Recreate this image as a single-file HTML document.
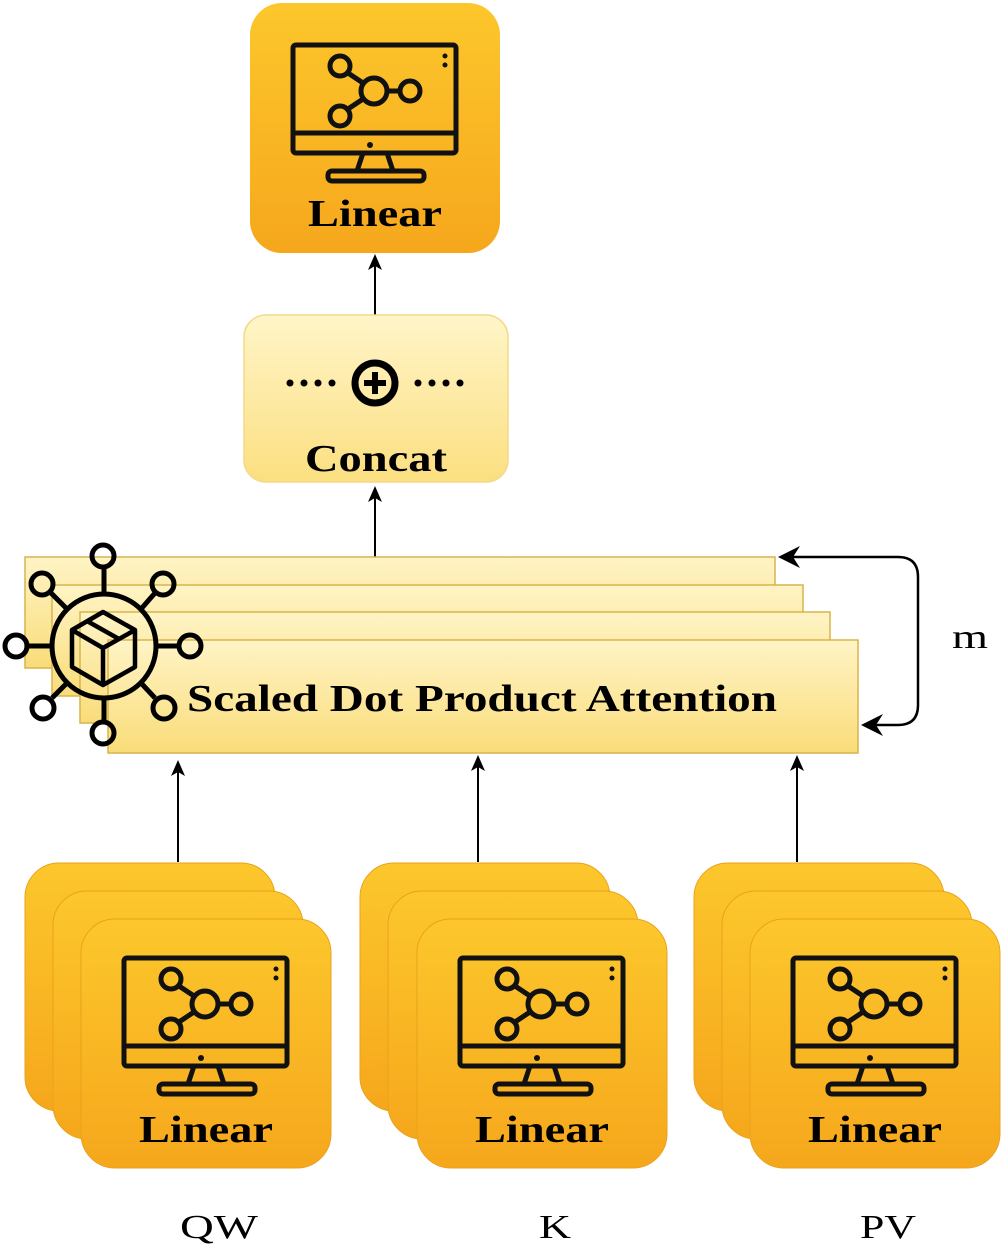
<!DOCTYPE html>
<html><head><meta charset="utf-8"><style>
html,body{margin:0;padding:0;background:#fff}
svg{display:block}
text{font-family:"Liberation Serif",serif}
</style></head><body>
<svg width="1005" height="1252" viewBox="0 0 1005 1252" xmlns="http://www.w3.org/2000/svg">
<defs>
<linearGradient id="og" x1="0" y1="0" x2="0" y2="1"><stop offset="0" stop-color="#fcc72c"/><stop offset="1" stop-color="#f6a71c"/></linearGradient>
<linearGradient id="pg" x1="0" y1="0" x2="0" y2="1"><stop offset="0" stop-color="#fff5c8"/><stop offset="1" stop-color="#fbdf80"/></linearGradient>
<linearGradient id="sg" x1="0" y1="0" x2="0" y2="1"><stop offset="0" stop-color="#fff4c6"/><stop offset="1" stop-color="#f9dc79"/></linearGradient>
<marker id="ah" markerWidth="16" markerHeight="16" refX="8" refY="8" orient="auto" markerUnits="userSpaceOnUse"><path d="M0,1 L16,8 L0,15 L4,8 z" fill="#000"/></marker>
<symbol id="mon" viewBox="0 0 250 250" width="250" height="250">
<g fill="none" stroke="#111" stroke-width="5">
<rect x="43" y="42" width="163" height="108" rx="3"/>
<line x1="43" y1="130" x2="206" y2="130"/>
<path d="M113,150 L107,168 M137,150 L143,168"/>
<rect x="78" y="168" width="96" height="10" rx="4"/>
<circle cx="124" cy="88" r="13"/>
<circle cx="90" cy="63" r="10"/>
<circle cx="90" cy="113" r="10"/>
<circle cx="160" cy="88" r="10"/>
<line x1="98" y1="70" x2="113" y2="80"/>
<line x1="98" y1="106" x2="113" y2="96"/>
<line x1="137" y1="88" x2="150" y2="88"/>
</g>
<g fill="#111"><circle cx="120" cy="142" r="3"/><circle cx="195" cy="53" r="2.5"/><circle cx="195" cy="62" r="2.5"/></g>
</symbol>
</defs>

<rect x="250" y="3" width="250" height="250" rx="32" fill="url(#og)"/>
<use href="#mon" x="250" y="3"/>
<text x="308" y="226" font-size="38" font-weight="bold" textLength="134" lengthAdjust="spacingAndGlyphs">Linear</text>

<line x1="375" y1="315" x2="375" y2="262" stroke="#000" stroke-width="2" marker-end="url(#ah)"/>
<line x1="375" y1="557" x2="375" y2="494" stroke="#000" stroke-width="2" marker-end="url(#ah)"/>

<rect x="244" y="315" width="264" height="167" rx="22" fill="url(#pg)" stroke="#f3d98a" stroke-width="1.5"/>
<circle cx="375" cy="383" r="20" fill="none" stroke="#000" stroke-width="7"/>
<path d="M375,372 V394 M364,383 H386" stroke="#000" stroke-width="6"/>
<g fill="#000"><circle cx="290" cy="383" r="3.5"/><circle cx="304" cy="383" r="3.5"/><circle cx="318" cy="383" r="3.5"/><circle cx="332" cy="383" r="3.5"/><circle cx="418" cy="383" r="3.5"/><circle cx="432" cy="383" r="3.5"/><circle cx="446" cy="383" r="3.5"/><circle cx="460" cy="383" r="3.5"/></g>
<text x="305" y="471" font-size="38" font-weight="bold" textLength="142" lengthAdjust="spacingAndGlyphs">Concat</text>

<g stroke="#d9b44a" stroke-width="1.5">
<rect x="25" y="557" width="750" height="111" fill="url(#sg)"/>
<rect x="52" y="585" width="751" height="111" fill="url(#sg)"/>
<rect x="80" y="612" width="750" height="111" fill="url(#sg)"/>
<rect x="108" y="640" width="750" height="113" fill="url(#sg)"/>
</g>
<text x="187" y="711" font-size="38" font-weight="bold" textLength="590" lengthAdjust="spacingAndGlyphs">Scaled Dot Product Attention</text>
<g fill="none" stroke="#000" stroke-width="5">
<circle cx="104" cy="646" r="52"/>
<line x1="104" y1="594" x2="104" y2="568"/><line x1="104" y1="698" x2="104" y2="721"/>
<line x1="52" y1="646" x2="28" y2="646"/><line x1="156" y1="646" x2="178" y2="646"/>
<line x1="67" y1="609" x2="51" y2="593"/><line x1="141" y1="609" x2="155" y2="593"/>
<line x1="67" y1="683" x2="52" y2="698"/><line x1="141" y1="683" x2="155" y2="698"/>
<circle cx="103" cy="556" r="11"/><circle cx="103" cy="733" r="11"/>
<circle cx="16" cy="646" r="11"/><circle cx="190" cy="646" r="11"/>
<circle cx="42" cy="584" r="11"/><circle cx="163" cy="584" r="11"/>
<circle cx="43" cy="708" r="11"/><circle cx="164" cy="708" r="11"/>
<path d="M72,630 L103,612 L135,630 L135,667 L103,685 L72,667 Z M72,630 L103,648 L135,630 M103,648 V685 M87,621 L119,639" stroke-width="4.5" stroke-linejoin="round"/>
</g>

<path d="M786,557 H898 Q918,557 918,577 V705 Q918,725 898,725 H870" fill="none" stroke="#000" stroke-width="2.5"/>
<path d="M778,557 L800,546 L793,557 L800,568 Z" fill="#000"/>
<path d="M861,725 L883,714 L876,725 L883,736 Z" fill="#000"/>
<text x="952" y="648" font-size="34" textLength="36" lengthAdjust="spacingAndGlyphs">m</text>

<line x1="178" y1="862" x2="178" y2="768" stroke="#000" stroke-width="2" marker-end="url(#ah)"/>
<line x1="478" y1="862" x2="478" y2="763" stroke="#000" stroke-width="2" marker-end="url(#ah)"/>
<line x1="797" y1="862" x2="797" y2="763" stroke="#000" stroke-width="2" marker-end="url(#ah)"/>

<g>
<rect x="25" y="863" width="250" height="248" rx="34" fill="url(#og)" stroke="#e9a21c" stroke-width="1"/>
<rect x="53" y="891" width="250" height="248" rx="34" fill="url(#og)" stroke="#e9a21c" stroke-width="1"/>
<rect x="81" y="919" width="250" height="249" rx="34" fill="url(#og)" stroke="#e9a21c" stroke-width="1"/>
<use href="#mon" x="81" y="916"/>
<text x="139" y="1142" font-size="38" font-weight="bold" textLength="134" lengthAdjust="spacingAndGlyphs">Linear</text>
</g>
<g>
<rect x="360" y="863" width="250" height="248" rx="34" fill="url(#og)" stroke="#e9a21c" stroke-width="1"/>
<rect x="388" y="891" width="250" height="248" rx="34" fill="url(#og)" stroke="#e9a21c" stroke-width="1"/>
<rect x="417" y="919" width="250" height="249" rx="34" fill="url(#og)" stroke="#e9a21c" stroke-width="1"/>
<use href="#mon" x="417" y="916"/>
<text x="475" y="1142" font-size="38" font-weight="bold" textLength="134" lengthAdjust="spacingAndGlyphs">Linear</text>
</g>
<g>
<rect x="694" y="863" width="250" height="248" rx="34" fill="url(#og)" stroke="#e9a21c" stroke-width="1"/>
<rect x="722" y="891" width="250" height="248" rx="34" fill="url(#og)" stroke="#e9a21c" stroke-width="1"/>
<rect x="750" y="919" width="250" height="249" rx="34" fill="url(#og)" stroke="#e9a21c" stroke-width="1"/>
<use href="#mon" x="750" y="916"/>
<text x="808" y="1142" font-size="38" font-weight="bold" textLength="134" lengthAdjust="spacingAndGlyphs">Linear</text>
</g>

<text x="180" y="1238" font-size="34" textLength="78" lengthAdjust="spacingAndGlyphs">QW</text>
<text x="539" y="1238" font-size="34" textLength="32" lengthAdjust="spacingAndGlyphs">K</text>
<text x="860" y="1238" font-size="34" textLength="56" lengthAdjust="spacingAndGlyphs">PV</text>
</svg>
</body></html>
